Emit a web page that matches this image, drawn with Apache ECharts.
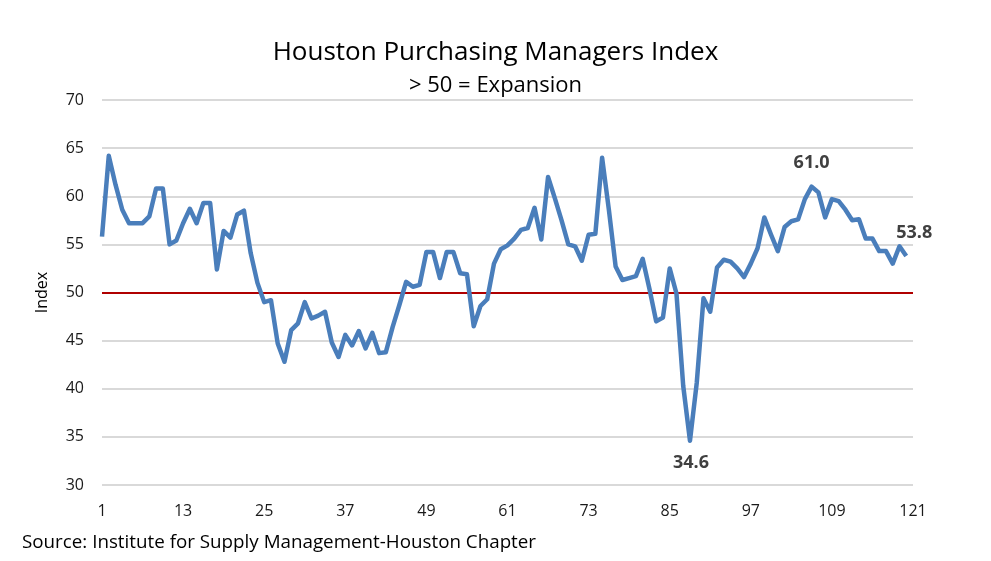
<!DOCTYPE html>
<html>
<head>
<meta charset="utf-8">
<script src="https://cdn.jsdelivr.net/npm/echarts@6/dist/echarts.min.js"></script>
<style>html,body{margin:0;padding:0;background:#fff;}#c{width:991px;height:561px;}</style>
</head>
<body>
<div id="c"></div>
<script>
var titleText = 'Houston Purchasing Managers Index';
var subtitleText = '> 50 = Expansion';
var sourceText = 'Source: Institute for Supply Management-Houston Chapter';
var yAxisName = 'Index';
var categories = [];
for (var k = 1; k <= 121; k++) categories.push(String(k));
var pmiValues = [
  55.8, 64.2, 61.2, 58.6, 57.2, 57.2, 57.2, 57.9, 60.8, 60.8,
  55.0, 55.4, 57.2, 58.7, 57.2, 59.3, 59.3, 52.4, 56.4, 55.7,
  58.1, 58.5, 54.1, 51.0, 49.0, 49.2, 44.7, 42.8, 46.1, 46.8,
  49.0, 47.3, 47.6, 48.0, 44.8, 43.3, 45.6, 44.5, 46.0, 44.2,
  45.8, 43.7, 43.8, 46.4, 48.7, 51.1, 50.6, 50.8, 54.2, 54.2,
  51.5, 54.2, 54.2, 52.0, 51.9, 46.5, 48.6, 49.3, 53.0, 54.5,
  54.9, 55.6, 56.5, 56.7, 58.8, 55.5, 62.0, 59.8, 57.5, 55.0,
  54.8, 53.3, 56.0, 56.1, 64.0, 58.6, 52.7, 51.3, 51.5, 51.7,
  53.5, 50.4, 47.0, 47.4, 52.5, 49.9, 40.3, 34.6, 40.6, 49.4,
  48.0, 52.6, 53.4, 53.2, 52.5, 51.6, 53.0, 54.6, 57.8, 56.0,
  54.3, 56.8, 57.4, 57.6, 59.7, 61.0, 60.4, 57.8, 59.7, 59.5,
  58.6, 57.5, 57.6, 55.6, 55.6, 54.3, 54.3, 53.0, 54.8, 53.8
];
var thresholdValue = 50;
var labeledPoints = [
  {index: 87, position: 'bottom', offset: [1, 2]},
  {index: 105, position: 'top', offset: [0, -4]},
  {index: 119, position: 'top', offset: [8, -3]}
];

var markPointData = labeledPoints.map(function (lp) {
  var v = pmiValues[lp.index];
  return {
    coord: [categories[lp.index], v],
    value: v,
    label: {position: lp.position, offset: lp.offset}
  };
});

var chart = echarts.init(document.getElementById('c'), null, {renderer: 'canvas'});
chart.setOption({
  backgroundColor: '#ffffff',
  animation: false,
  textStyle: {fontFamily: 'Open Sans'},
  title: {
    text: titleText,
    subtext: subtitleText,
    left: 'center',
    top: 35,
    itemGap: 9,
    textStyle: {fontFamily: 'Open Sans', fontSize: 26, fontWeight: 'normal', color: '#000'},
    subtextStyle: {fontFamily: 'Open Sans', fontSize: 22, color: '#000'}
  },
  grid: {left: 102, top: 100, width: 811, height: 385, containLabel: false},
  xAxis: {
    type: 'category',
    data: categories,
    boundaryGap: false,
    axisLine: {show: false},
    axisTick: {show: false},
    splitLine: {show: false},
    axisLabel: {interval: 11, fontSize: 16, color: '#1a1a1a', margin: 18, fontFamily: 'Open Sans'}
  },
  yAxis: {
    type: 'value',
    min: 30,
    max: 70,
    interval: 5,
    name: yAxisName,
    nameLocation: 'middle',
    nameGap: 52,
    nameTextStyle: {fontSize: 16, color: '#000', fontFamily: 'Open Sans'},
    axisLine: {show: false},
    axisTick: {show: false},
    axisLabel: {fontSize: 16, color: '#1a1a1a', margin: 18, fontFamily: 'Open Sans'},
    splitLine: {lineStyle: {color: '#d9d9d9', width: 2}}
  },
  series: [{
    type: 'line',
    data: pmiValues,
    symbol: 'none',
    smooth: false,
    lineStyle: {color: '#4a7ebb', width: 4.5, join: 'round'},
    itemStyle: {color: '#4a7ebb'},
    z: 3,
    markLine: {
      silent: true,
      symbol: ['none', 'none'],
      label: {show: false},
      lineStyle: {color: '#b00000', width: 2, type: 'solid'},
      data: [{yAxis: thresholdValue}],
      z: 2
    },
    markPoint: {
      silent: true,
      symbol: 'circle',
      symbolSize: 2,
      itemStyle: {color: 'rgba(0,0,0,0)'},
      label: {
        show: true,
        distance: 10,
        formatter: function (p) { return Number(p.value).toFixed(1); },
        fontFamily: 'Open Sans',
        fontWeight: 'bold',
        fontSize: 18,
        color: '#404040'
      },
      data: markPointData
    }
  }],
  graphic: [{
    type: 'text',
    left: 22,
    top: 533,
    style: {text: sourceText, fontFamily: 'Open Sans', fontSize: 18.8, fill: '#000'}
  }]
});
</script>
</body>
</html>
